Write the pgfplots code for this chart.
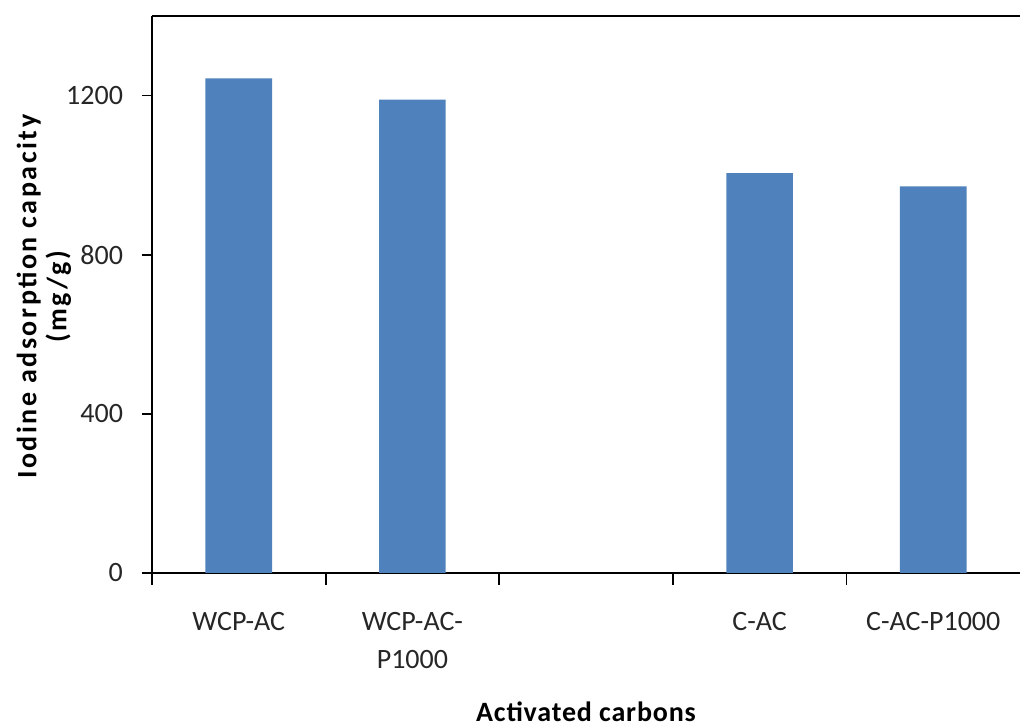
\documentclass[border=0pt]{standalone}
\usepackage{pgfplots}
\pgfplotsset{compat=1.18}
\usepackage{fontspec}
\setmainfont{Carlito}
\definecolor{barblue}{HTML}{4F81BD}

\begin{document}
\begin{tikzpicture}
  \useasboundingbox (-76pt,-76.5pt) rectangle (434pt,286.5pt);
  \begin{axis}[
      at={(0,0)}, anchor=south west,
      scale only axis,
      width=434pt, height=278.5pt,
      ybar,
      bar width=0.384,
      xmin=0.5, xmax=5.5,
      ymin=0, ymax=1400,
      axis x line=box,
      axis y line=left,
      axis line style={line width=0.9pt, -},
      tick align=outside,
      tick pos=left,
      xtick={1,2,4,5},
      xticklabels={WCP-AC, {WCP-AC-\\P1000}, C-AC, C-AC-P1000},
      major x tick style={draw=none},
      minor xtick={0.5,1.5,2.5,3.5,4.5},
      minor x tick style={draw=black, line width=0.9pt},
      minor tick length=6pt,
      ytick={0,400,800,1200},
      major tick length=5pt,
      y tick style={draw=black, line width=0.9pt},
      /pgf/number format/assume math mode=true,
      /pgf/number format/1000 sep={},
      tick label style={font=\fontsize{14}{19}\selectfont, text=black!85},
      x tick label style={align=center, anchor=north, yshift=-11pt},
      y tick label style={anchor=east, xshift=-6pt},
      ylabel={Iodine adsorption capacity\\(mg/g)},
      ylabel style={at={(axis description cs:-0.1244,0.496)}, anchor=center,
        align=center,
        font=\bfseries\fontsize{14}{15}\selectfont\addfontfeatures{LetterSpace=9}},
      xlabel={Activated carbons},
      xlabel style={at={(axis description cs:0.5,0)}, anchor=center,
        yshift=-69.5pt,
        font=\bfseries\fontsize{14}{19}\selectfont\addfontfeatures{LetterSpace=3}},
    ]
    \addplot[fill=barblue, draw=none] coordinates {
      (1,1243) (2,1190) (4,1005) (5,972)
    };
  \end{axis}
\end{tikzpicture}
\end{document}
